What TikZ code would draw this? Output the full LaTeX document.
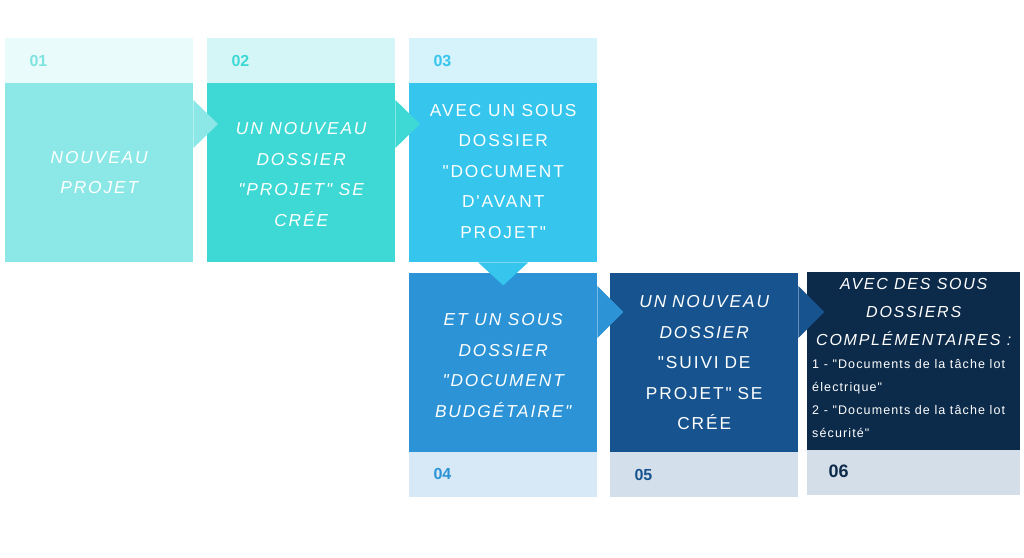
\documentclass[tikz,border=0pt]{standalone}
\usepackage{fontspec}
\setmainfont{Liberation Sans}
\newfontfamily\boxfont{Liberation Sans}[LetterSpace=11]
\newfontfamily\numfont{Liberation Sans}
\newfontfamily\listfont{Liberation Sans}[LetterSpace=9]
\usetikzlibrary{calc}
\definecolor{cA}{HTML}{8CE8E6}
\definecolor{hA}{HTML}{EAFBFB}
\definecolor{nA}{HTML}{7FE3E0}
\definecolor{cB}{HTML}{3FD9D5}
\definecolor{hB}{HTML}{D5F6F6}
\definecolor{cC}{HTML}{35C5ED}
\definecolor{hC}{HTML}{D6F2FB}
\definecolor{cD}{HTML}{2B93D6}
\definecolor{hD}{HTML}{D7E9F7}
\definecolor{cE}{HTML}{17548F}
\definecolor{hE}{HTML}{D3DFEA}
\definecolor{cF}{HTML}{0C2A4A}
\definecolor{hF}{HTML}{D4DEE8}
\tikzset{
  mainbox/.style={anchor=north west, minimum width=188pt, minimum height=179pt, inner sep=0pt,
    text width=184pt, align=center, text=white,
    font=\boxfont\fontsize{17.3}{30.5}\selectfont},
  headbox/.style={anchor=north west, minimum width=188pt, minimum height=45pt, inner sep=0pt},
  numlabel/.style={anchor=west, font=\numfont\bfseries\fontsize{16}{16}\selectfont},
  boxtext/.style={text=white, align=center, inner sep=0pt, font=\boxfont\fontsize{17.3}{30.5}\selectfont},
  italtext/.style={text=white, align=center, inner sep=0pt, font=\boxfont\itshape\fontsize{17.3}{30.5}\selectfont},
}
\begin{document}
\begin{tikzpicture}[x=1pt,y=-1pt]
\useasboundingbox (0,0) rectangle (1024,557);
\fill[white] (0,0) rectangle (1024,557);
% headers row 1
\node[headbox, fill=hA] (h1) at (5,38) {};
\node[headbox, fill=hB] (h2) at (207,38) {};
\node[headbox, fill=hC] (h3) at (409,38) {};
\node[numlabel, text=nA] (n1) at (26,61) {01};
\node[numlabel, text=cB] (n2) at (228,61) {02};
\node[numlabel, text=cC] (n3) at (430,61) {03};
% main boxes row 1
\node[mainbox, fill=cA] (m1) at (5,83) {\itshape NOUVEAU\\PROJET};
\node[mainbox, fill=cB] (m2) at (207,83) {};
\node[italtext] (t2) at ($(m2.center)+(0,2)$) {UN NOUVEAU\\DOSSIER\\"PROJET" SE\\CRÉE};
\node[mainbox, fill=cC] (m3) at (409,83) {};
\node[boxtext] (t3) at ($(m3.center)+(0,-1.5)$) {AVEC UN SOUS\\DOSSIER\\"DOCUMENT\\D'AVANT\\PROJET"};
% main boxes row 2
\node[mainbox, fill=cD] (m4) at (409,273) {};
\node[italtext] (t4) at ($(m4.center)+(0,3)$) {ET UN SOUS\\DOSSIER\\"DOCUMENT\\BUDGÉTAIRE"};
\node[mainbox, fill=cE] (m5) at (610,273) {{\itshape UN NOUVEAU\\DOSSIER}\\"SUIVI DE\\PROJET" SE\\CRÉE};
\node[mainbox, fill=cF, minimum width=213pt, minimum height=178pt, text width=209pt] (m6) at (807,272) {};
\node[anchor=north, text=white, align=center, inner sep=0pt, font=\boxfont\itshape\fontsize{16}{28}\selectfont] (t6) at ($(m6.north)+(0,6.5)$) {AVEC DES SOUS\\DOSSIERS\\COMPLÉMENTAIRES :};
\node[anchor=north west, text=white, align=left, inner sep=0pt, font=\listfont\fontsize{12.5}{23}\selectfont] (l6) at ($(m6.north west)+(5,87)$) {1 - "Documents de la tâche lot\\électrique"\\2 - "Documents de la tâche lot\\sécurité"};
% footers row 2
\node[headbox, fill=hD] (f4) at (409,452) {};
\node[headbox, fill=hE] (f5) at (610,452) {};
\node[headbox, fill=hF, minimum width=213pt] (f6) at (807,450) {};
\node[numlabel, text=cD] (n4) at (430,474) {04};
\node[numlabel, text=cE] (n5) at (631,475) {05};
\node[numlabel, text=cF, font=\numfont\bfseries\fontsize{18}{18}\selectfont] (n6) at (825,471) {06};
% arrows
\fill[cA] ($(m1.north east)+(0,17)$) -- ($(m1.north east)+(24.5,41)$) -- ($(m1.north east)+(0,65)$) -- cycle;
\fill[cB] ($(m2.north east)+(0,17)$) -- ($(m2.north east)+(24.5,41)$) -- ($(m2.north east)+(0,65)$) -- cycle;
\fill[cC] ($(m3.south)+(-25,0)$) -- ($(m3.south)+(0,23)$) -- ($(m3.south)+(25,0)$) -- cycle;
\fill[cD] ($(m4.north east)+(0,13)$) -- ($(m4.north east)+(26,39)$) -- ($(m4.north east)+(0,65)$) -- cycle;
\fill[cE] ($(m5.north east)+(0,13)$) -- ($(m5.north east)+(26,39)$) -- ($(m5.north east)+(0,65)$) -- cycle;
\end{tikzpicture}
\end{document}
